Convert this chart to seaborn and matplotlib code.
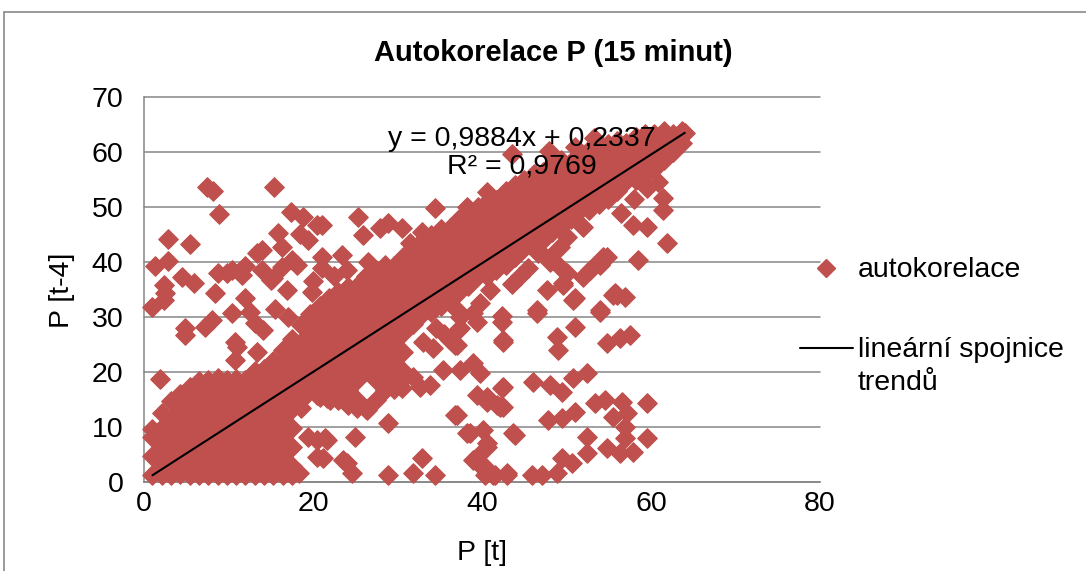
import matplotlib
matplotlib.use("Agg")
import matplotlib.pyplot as plt
from matplotlib.lines import Line2D
import numpy as np
import pandas as pd
import seaborn as sns

W, H = 1086, 571

# Dense core: P[t] columns and the P[t-4] values observed at each of them
core_t = [1.0, 2.1, 3.2, 4.3, 5.4, 6.5, 7.6, 8.7, 9.8, 10.9, 12.0, 13.1, 14.2,
          15.3, 16.4, 17.5, 18.6, 19.7, 20.8, 21.9, 23.0, 24.1, 25.2, 26.3,
          27.4, 28.5, 29.6, 30.7, 31.8, 32.9, 34.0, 35.1, 36.2, 37.3, 38.4,
          39.5, 40.6, 41.7, 42.8, 43.9, 45.0, 46.1, 47.2, 48.3, 49.4, 50.5,
          51.6, 52.7, 53.8, 54.9, 56.0, 57.1, 58.2, 59.3, 60.4, 61.5, 62.6,
          63.7, 64.0]
core_t4 = [
    [1.3, 4.7, 8.1, 9.6],
    [1.3, 2.9, 6.4, 9.8, 12.5],
    [1.2, 4.6, 8.1, 11.6, 14.7],
    [1.4, 2.9, 6.4, 9.8, 13.3, 16.0],
    [1.2, 4.7, 8.2, 11.6, 15.0, 17.2],
    [1.3, 2.9, 6.4, 9.8, 13.2, 16.7, 18.4],
    [1.2, 4.7, 8.1, 11.5, 15.0, 18.5],
    [1.3, 2.9, 6.4, 9.8, 13.3, 16.7, 19.0],
    [1.2, 4.7, 8.1, 11.6, 15.0, 18.5],
    [1.3, 2.9, 6.4, 9.8, 13.3, 16.7, 18.7],
    [1.2, 4.6, 8.1, 11.6, 15.0, 18.5],
    [1.3, 2.9, 6.4, 9.8, 13.3, 16.7, 20.2],
    [1.2, 4.7, 8.1, 11.6, 15.0, 18.5, 20.5],
    [1.3, 2.9, 6.4, 9.8, 13.3, 16.7, 20.2, 22.0],
    [1.2, 4.7, 8.1, 11.6, 15.0, 18.5, 21.9, 24.0],
    [1.3, 2.9, 6.4, 9.8, 13.3, 16.7, 20.2, 23.6, 26.0],
    [13.5, 15.0, 18.5, 21.9, 25.4, 28.5],
    [16.7, 20.2, 23.6, 27.1, 30.5],
    [15.5, 18.5, 21.9, 25.4, 28.8, 32.0],
    [16.7, 20.2, 23.6, 27.1, 30.5, 33.5],
    [15.0, 18.5, 21.9, 25.4, 28.8, 32.3, 34.5],
    [14.0, 16.7, 20.2, 23.6, 27.1, 30.5, 34.0, 35.5],
    [13.5, 15.0, 18.5, 21.9, 25.4, 28.8, 32.3, 35.7],
    [13.3, 20.2, 23.6, 27.1, 30.5, 34.0, 37.4],
    [15.0, 18.5, 21.9, 25.4, 28.8, 32.3, 35.7, 38.5],
    [16.7, 20.2, 23.6, 27.1, 30.5, 34.0, 37.4, 39.5],
    [17.0, 18.5, 21.9, 25.4, 28.8, 32.3, 35.7, 39.2],
    [20.2, 23.6, 27.1, 30.5, 34.0, 37.4, 40.9],
    [28.8, 32.3, 35.7, 39.2, 42.5],
    [30.5, 34.0, 37.4, 40.9, 43.8],
    [31.0, 32.3, 35.7, 39.2, 42.6, 45.0],
    [32.0, 34.0, 37.4, 40.9, 44.3, 46.0],
    [33.0, 35.7, 39.2, 42.6, 46.1],
    [34.5, 37.4, 40.9, 44.3, 47.8],
    [35.7, 39.2, 42.6, 46.1, 49.0],
    [37.4, 40.9, 44.3, 47.8, 50.0],
    [37.5, 39.2, 42.6, 46.1, 49.5, 51.0],
    [38.5, 40.9, 44.3, 47.8, 51.2],
    [39.5, 42.6, 46.1, 49.5, 53.0],
    [40.9, 44.3, 47.8, 51.2, 54.0],
    [42.6, 46.1, 49.5, 53.0, 55.0],
    [43.0, 44.3, 47.8, 51.2, 54.7, 56.0],
    [44.0, 46.1, 49.5, 53.0, 56.4],
    [45.5, 47.8, 51.2, 54.7, 57.8],
    [46.5, 49.5, 53.0, 56.4, 58.5],
    [47.8, 51.2, 54.7, 58.1],
    [49.5, 53.0, 56.4, 59.8],
    [49.5, 51.2, 54.7, 58.1, 60.4],
    [50.5, 53.0, 56.4, 59.9],
    [51.5, 54.7, 58.1, 61.5],
    [53.0, 56.4, 59.9, 62.0],
    [54.7, 58.1, 61.6],
    [55.0, 56.4, 59.9, 62.8],
    [56.0, 58.1, 61.6, 63.2],
    [57.0, 59.9, 63.3],
    [58.5, 61.6, 63.8],
    [60.0, 63.3],
    [61.6, 63.8],
    [63.5],
]

# Sparse points lying above the trend (falling power)
upper_t = [7.5, 8.2, 15.4, 8.9, 2.8, 5.4, 1.3, 2.8, 4.5, 5.9, 2.4, 1.0, 2.4,
           17.4, 18.8, 20.5, 15.9, 18.5, 19.4, 14.0, 12.0, 10.4, 8.8, 8.4,
           12.0, 10.4, 16.9, 15.3, 17.5, 21.1, 21.1, 19.9, 17.0, 14.0, 16.3,
           8.0, 4.9, 13.1, 4.9, 1.9, 10.8, 13.4, 10.8, 7.2, 11.0, 14.1, 15.0,
           18.1, 13.4, 16.3, 9.8, 11.6, 2.5, 25.3, 25.9, 27.9, 28.9, 30.5,
           32.9, 34.4, 23.4, 21.1, 31.5, 40.6, 38.2, 43.6, 47.9, 51.0, 53.2,
           20.0, 22.5, 24.0, 26.5, 15.5, 12.5]
upper_t4 = [53.6, 53.0, 53.6, 48.7, 44.2, 43.3, 39.3, 40.2, 37.3, 36.2, 35.8,
            31.8, 33.1, 49.1, 48.2, 46.7, 45.3, 45.1, 44.0, 42.2, 39.3, 38.5,
            38.0, 34.4, 33.5, 30.7, 34.9, 37.1, 40.4, 40.9, 38.9, 34.5, 30.0,
            38.5, 39.1, 29.5, 28.0, 28.9, 26.7, 18.7, 25.5, 23.6, 22.2, 28.2,
            24.5, 27.6, 36.7, 39.5, 41.6, 42.7, 38.0, 37.6, 34.4, 48.2, 44.9,
            46.2, 47.1, 46.2, 45.5, 49.8, 41.3, 46.7, 43.5, 52.7, 50.0, 59.6,
            60.2, 61.0, 62.6, 36.5, 37.5, 38.5, 40.0, 31.5, 31.0]

# Sparse points lying below the trend (rising power)
lower_t = [20.5, 21.7, 22.4, 22.0, 24.0, 26.4, 30.5, 31.8, 33.8, 35.4, 37.4,
           38.9, 39.8, 30.7, 32.7, 34.2, 37.0, 37.4, 39.4, 42.4, 42.5, 36.2,
           37.4, 38.9, 37.0, 37.0, 37.2, 36.8, 39.4, 40.6, 42.1, 42.4, 36.8,
           28.9, 21.7, 25.0, 38.2, 40.1, 40.6, 43.7, 39.4, 40.1, 41.5, 43.0,
           32.9, 31.8, 34.4, 28.9, 24.0, 24.6, 21.2, 23.5, 20.5, 19.4, 21.4,
           20.5, 18.4, 38.9, 37.0, 41.8, 40.6, 38.6, 40.6, 40.1, 40.4, 41.3,
           46.5, 54.0, 51.0, 48.9, 49.0, 54.8, 56.3, 57.5, 42.5, 42.5, 42.5,
           46.0, 48.0, 49.5, 50.8, 52.4, 53.4, 54.6, 56.6, 59.5, 55.5, 57.2,
           47.8, 49.5, 51.0, 56.9, 56.9, 59.5, 52.4, 52.4, 54.8, 56.3, 57.9,
           43.9, 49.5, 50.7, 48.9, 47.1, 45.9, 43.0, 60.8, 61.4, 61.4, 61.9,
           57.9, 59.5, 58.5, 54.8, 54.0, 52.8, 51.9, 55.7, 56.9, 54.0, 51.0,
           49.6, 47.7, 46.5, 46.6, 48.0, 49.2, 50.1, 49.6, 50.8, 56.0, 42.4,
           39.8, 46.6, 48.0, 49.2, 53.1, 54.3, 55.5, 50.0, 52.0, 44.5, 45.5,
           41.0, 43.5, 56.5, 58.0, 59.5, 34.5, 33.0, 35.5]
lower_t4 = [15.8, 15.3, 17.3, 14.9, 14.4, 13.1, 17.1, 19.1, 17.6, 20.4, 20.4,
            21.6, 19.8, 18.7, 17.3, 24.4, 24.9, 28.0, 29.1, 29.1, 25.8, 25.8,
            30.0, 30.7, 34.9, 31.3, 27.6, 24.9, 15.8, 14.5, 13.6, 17.1, 12.2,
            10.7, 7.6, 8.2, 8.9, 9.5, 7.1, 8.9, 4.5, 2.5, 1.3, 1.6,
            4.4, 1.6, 1.3, 1.3, 3.5, 1.6, 4.4, 4.0, 7.6, 8.2, 8.0,
            4.5, 1.6, 4.0, 12.2, 14.0, 15.5, 8.9, 6.4, 3.1, 1.3, 1.3,
            30.7, 30.9, 28.2, 26.4, 24.0, 25.3, 26.2, 26.7, 25.5, 17.3, 13.6,
            18.2, 17.6, 16.4, 18.9, 19.8, 14.4, 14.9, 14.5, 14.4, 11.8, 12.5,
            11.3, 11.6, 12.7, 10.0, 8.0, 8.0, 8.2, 5.3, 6.2, 5.3, 5.5,
            8.5, 4.4, 3.5, 1.6, 1.3, 1.3, 1.3, 54.5, 51.6, 49.5, 43.5,
            46.7, 46.4, 40.4, 40.9, 39.5, 38.5, 37.3, 34.4, 33.6, 31.3, 33.5,
            36.2, 34.9, 31.3, 42.2, 40.9, 39.1, 38.0, 35.8, 33.1, 34.0, 30.2,
            32.5, 41.6, 40.0, 42.7, 39.1, 40.9, 34.0, 44.5, 46.4, 37.5, 39.0,
            35.0, 36.0, 49.0, 51.5, 53.5, 28.0, 25.5, 27.0]

x_ticks = [0, 20, 40, 60, 80]
y_ticks = [0, 10, 20, 30, 40, 50, 60, 70]

# Linear trend reported for the series
slope, intercept, r_squared = 0.9884, 0.2337, 0.9769

RED = "#C0504D"
GRAY = "#868686"
FS = 20.5

p_t = [t for t, vals in zip(core_t, core_t4) for _ in vals] + upper_t + lower_t
p_t4 = [v for vals in core_t4 for v in vals] + upper_t4 + lower_t4
df = pd.DataFrame({"P [t]": p_t, "P [t-4]": p_t4})

sns.set_theme(style="white")
plt.rcParams["font.family"] = ["Liberation Sans", "DejaVu Sans"]
plt.rcParams.update({"text.color": "black", "axes.labelcolor": "black",
                     "xtick.color": "black", "ytick.color": "black"})

fig = plt.figure(figsize=(W / 100, H / 100), dpi=100)
ax = fig.add_axes([144 / W, 1 - 482 / H, (820 - 144) / W, (482 - 97) / H])

sns.scatterplot(data=df, x="P [t]", y="P [t-4]", marker="D", s=98,
                color=RED, edgecolor=RED, linewidth=0.9, ax=ax, legend=False,
                clip_on=False, zorder=3)

x_line = np.array([df["P [t]"].min(), df["P [t]"].max()])
ax.plot(x_line, slope * x_line + intercept, color="black", lw=1.5, zorder=4)

ax.set_xlim(0, 80)
ax.set_ylim(0, 70)
ax.set_xticks(x_ticks)
ax.set_yticks(y_ticks)
ax.yaxis.grid(True, color=GRAY, lw=1.1)
ax.xaxis.grid(False)
for gl in ax.get_ygridlines():
    gl.set_clip_on(False)
ax.set_axisbelow(True)
for side in ("top", "right"):
    ax.spines[side].set_visible(False)
for side in ("left", "bottom"):
    ax.spines[side].set_color(GRAY)
    ax.spines[side].set_linewidth(1.1)
ax.tick_params(axis="both", direction="out", length=5.8, width=1.1,
               color=GRAY, labelsize=FS, labelcolor="black")
ax.tick_params(axis="y", pad=9)
ax.tick_params(axis="x", pad=1)

ax.set_xlabel("P [t]", fontsize=FS, va="center", color="black")
ax.xaxis.set_label_coords(0.5, (482 - 553) / 385)
ax.set_ylabel("P [t-4]", fontsize=FS, va="center", color="black")
ax.yaxis.set_label_coords((62 - 144) / 676, 0.4987)

ax.text(44.7, 59.9,
        f"y = {slope:.4f}x + {intercept:.4f}".replace(".", ",")
        + "\n" + f"R² = {r_squared:.4f}".replace(".", ","),
        ha="center", va="center", multialignment="center",
        fontsize=FS, linespacing=1.1, zorder=6, color="black")

fig.text(553 / W, 1 - 53 / H, "Autokorelace P (15 minut)", ha="center",
         va="center", fontsize=21, fontweight="bold", color="black")

# legend
fig.add_artist(Line2D([826 / W], [1 - 268 / H], marker="D", ms=9.3,
                      color=RED, lw=0, transform=fig.transFigure))
fig.add_artist(Line2D([800 / W, 853 / W], [1 - 348 / H, 1 - 348 / H],
                      color="black", lw=1.5, transform=fig.transFigure))
fig.text(858 / W, 1 - 270 / H, "autokorelace", va="center", fontsize=FS)
fig.text(858 / W, 1 - 350 / H, "lineární spojnice", va="center", fontsize=FS)
fig.text(858 / W, 1 - 383 / H, "trendů", va="center", fontsize=FS)

# chart frame
fig.add_artist(Line2D([4 / W, 1], [1 - 12 / H, 1 - 12 / H], color="#8a8a8a",
                      lw=1.2, transform=fig.transFigure))
fig.add_artist(Line2D([4 / W, 4 / W], [1 - 12 / H, 0], color="#8a8a8a",
                      lw=1.2, transform=fig.transFigure))

fig.savefig("out.png", dpi=100, facecolor="white")
